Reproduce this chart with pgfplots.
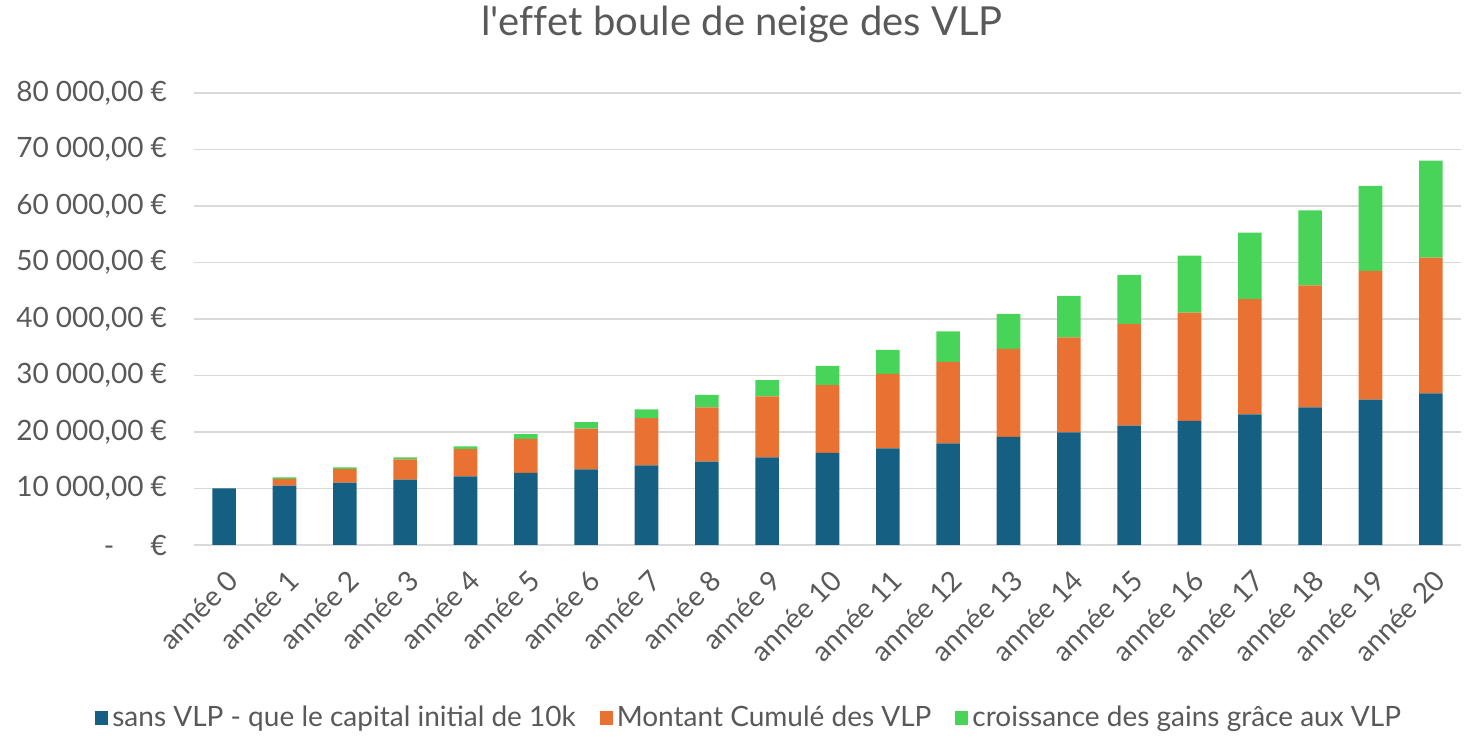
\documentclass[border=0pt]{standalone}
\usepackage{pgfplots}
\pgfplotsset{compat=1.18}
\usepackage{pgfplotstable}
\usepackage{fontspec}
\setmainfont{Lato}
\definecolor{cblue}{HTML}{156082}
\definecolor{corange}{HTML}{E97132}
\definecolor{cgreen}{HTML}{48D458}
\definecolor{txt}{HTML}{595959}
\definecolor{gridc}{HTML}{D9D9D9}

\pgfplotstableread{
x  blue   orange green
0  10000  0      0
1  10500  1200   250
2  11025  2400   300
3  11576  3600   350
4  12155  4800   500
5  12763  6000   850
6  13400  7200   1150
7  14071  8400   1550
8  14775  9600   2200
9  15513  10800  2850
10 16289  12000  3400
11 17103  13200  4250
12 17990  14400  5400
13 19115  15600  6200
14 19940  16800  7350
15 21120  18000  8700
16 21950  19200  10050
17 23130  20400  11750
18 24370  21600  13250
19 25720  22800  15050
20 26850  24000  17200
}\data

\begin{document}
\begin{tikzpicture}
\useasboundingbox (-97pt,-98.5pt) rectangle (641.5pt,272.5pt);
\begin{axis}[
  at={(0,0)}, anchor=south west,
  scale only axis, width=633.5pt, height=226pt,
  ybar stacked, bar width=0.39,
  xmin=-0.5, xmax=20.5, ymin=0, ymax=80000,
  axis line style={draw=none},
  major tick length=0pt,
  scaled y ticks=false,
  ymajorgrids, major grid style={gridc, line width=0.9pt},
  ytick={0,10000,...,80000},
  yticklabels={{-\hspace{1.3em}€},{10 000,00 €},{20 000,00 €},{30 000,00 €},{40 000,00 €},{50 000,00 €},{60 000,00 €},{70 000,00 €},{80 000,00 €}},
  yticklabel style={font=\fontsize{14}{16}\selectfont, text=txt, xshift=-10pt},
  xtick=data,
  xticklabels={année 0,année 1,année 2,année 3,année 4,année 5,année 6,année 7,année 8,année 9,année 10,année 11,année 12,année 13,année 14,année 15,année 16,année 17,année 18,année 19,année 20},
  xticklabel style={font=\fontsize{14}{16}\selectfont, text=txt, rotate=45, anchor=east, xshift=-4pt, yshift=-14pt},
  title={l\textquotesingle e\mbox{f}\mbox{f}et boule de neige des VLP},
  title style={at={(0.4325,1.125)}, anchor=center, font=\fontsize{20}{24}\selectfont, text=txt},
  legend style={at={(0.439,-0.383)}, anchor=center, legend columns=-1, draw=none,
    font=\fontsize{14}{16}\selectfont, text=txt,
    /tikz/every even column/.append style={column sep=10pt}},
  legend image code/.code={\fill[#1] (0pt,-3.5pt) rectangle (6.5pt,3.5pt);},
]
\addplot[fill=cblue, draw=none] table[x=x, y=blue] {\data};
\addplot[fill=corange, draw=none] table[x=x, y=orange] {\data};
\addplot[fill=cgreen, draw=none] table[x=x, y=green] {\data};
\legend{sans VLP - que le capital initial de 10k, Montant Cumulé des VLP, croissance des gains grâce aux VLP}
\end{axis}
\end{tikzpicture}
\end{document}
